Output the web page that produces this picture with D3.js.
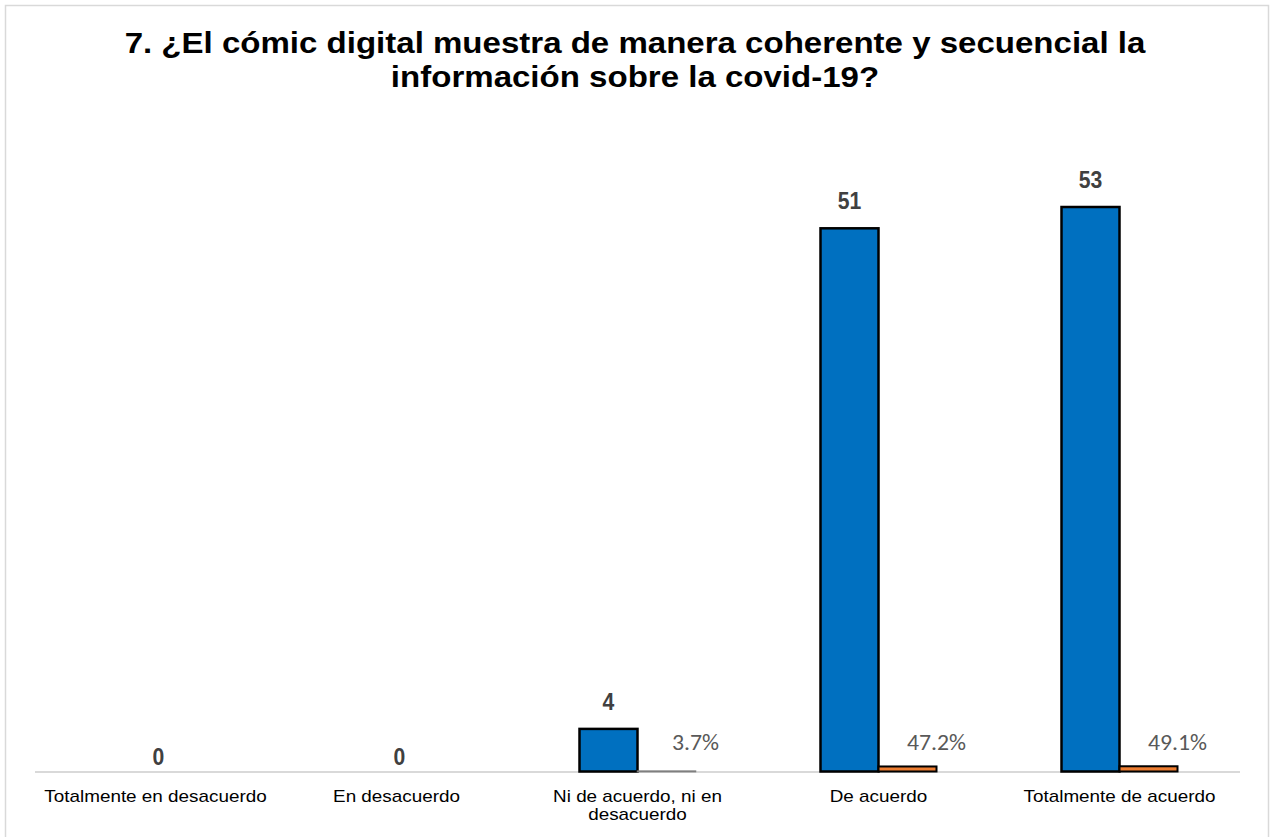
<!DOCTYPE html>
<html>
<head>
<meta charset="utf-8">
<script src="https://cdn.jsdelivr.net/npm/d3@7"></script>
<style>
  html, body { margin: 0; padding: 0; background: #fff; }
  svg { display: block; }
</style>
</head>
<body>
<svg id="chart" width="1270" height="837"></svg>
<script>
// Survey responses
const categories = [
  "Totalmente en desacuerdo",
  "En desacuerdo",
  "Ni de acuerdo, ni en desacuerdo",
  "De acuerdo",
  "Totalmente de acuerdo"
];
const counts = [0, 0, 4, 51, 53];
const shares = [null, null, 0.037, 0.472, 0.491];
const shareLabels = [null, null, "3.7%", "47.2%", "49.1%"];
const titleLines = [
  "7. ¿El cómic digital muestra de manera coherente y secuencial la",
  "información sobre la covid-19?"
];
const categoryLines = [
  ["Totalmente en desacuerdo"],
  ["En desacuerdo"],
  ["Ni de acuerdo, ni en", "desacuerdo"],
  ["De acuerdo"],
  ["Totalmente de acuerdo"]
];

const svg = d3.select("#chart");
const plot = { left: 35, right: 1240, top: 207, bottom: 771.5 };
const SANS = "Liberation Sans, Arial, sans-serif";

// text placed at (cx, cy) with a horizontal stretch
function placed(sel, cx, cy, sx) {
  sel.attr("x", 0).attr("y", 0)
    .attr("transform", (d, i) => `translate(${cx(d, i)},${cy(d, i)}) scale(${sx},1)`);
  return sel;
}

// chart frame
svg.append("rect")
  .attr("x", 5.5).attr("y", 5.5)
  .attr("width", 1263).attr("height", 840)
  .attr("fill", "#fff").attr("stroke", "#d9d9d9").attr("stroke-width", 1.5);

// title
placed(
  svg.append("g").selectAll("text").data(titleLines).join("text")
    .attr("text-anchor", "middle")
    .attr("font-family", SANS)
    .attr("font-weight", "bold").attr("font-size", 29.5)
    .attr("fill", "#000")
    .text(d => d),
  () => 635, (d, i) => 53 + i * 34, 1.12);

const x = d3.scaleBand().domain(categories).range([plot.left, plot.right]).padding(0);
const y = d3.scaleLinear().domain([0, 53]).range([plot.bottom, plot.top]);
const barW = 58;
const center = c => x(c) + x.bandwidth() / 2;

// axis line
svg.append("line")
  .attr("x1", plot.left).attr("x2", plot.right)
  .attr("y1", plot.bottom + 0.5).attr("y2", plot.bottom + 0.5)
  .attr("stroke", "#d9d9d9").attr("stroke-width", 2);

// count bars
svg.append("g").selectAll("rect")
  .data(categories.map((c, i) => ({ c, v: counts[i] })).filter(d => d.v > 0))
  .join("rect")
  .attr("x", d => center(d.c) - barW)
  .attr("y", d => y(d.v))
  .attr("width", barW)
  .attr("height", d => y(0) - y(d.v))
  .attr("fill", "#0070c0").attr("stroke", "#000").attr("stroke-width", 2.5);

// share bars (fractions, on the same axis)
svg.append("g").selectAll("rect")
  .data(categories.map((c, i) => ({ c, v: shares[i] })).filter(d => d.v != null))
  .join("rect")
  .attr("x", d => center(d.c))
  .attr("y", d => y(d.v))
  .attr("width", barW)
  .attr("height", d => Math.max(0.5, y(0) - y(d.v)))
  .attr("fill", "#ed7d31")
  .attr("stroke", d => d.v < 0.1 ? "#7f7f7f" : "#000")
  .attr("stroke-width", d => d.v < 0.1 ? 1.5 : 2);

// count labels
placed(
  svg.append("g").selectAll("text")
    .data(categories.map((c, i) => ({ c, v: counts[i] })))
    .join("text")
    .attr("text-anchor", "middle")
    .attr("font-family", SANS)
    .attr("font-weight", "bold").attr("font-size", 23)
    .attr("fill", "#404040")
    .text(d => d.v),
  d => d.v > 0 ? center(d.c) - barW / 2 : center(d.c) + 3,
  d => d.v > 0 ? y(d.v) - 19 : y(0) - 6.5,
  0.92);

// share labels
placed(
  svg.append("g").selectAll("text")
    .data(categories.map((c, i) => ({ c, v: shares[i], t: shareLabels[i] })).filter(d => d.v != null))
    .join("text")
    .attr("text-anchor", "middle")
    .attr("font-family", "Carlito, Open Sans, sans-serif")
    .attr("font-size", 22)
    .attr("fill", "#595959")
    .text(d => d.t),
  d => center(d.c) + barW,
  () => y(0) - 22,
  1.08);

// category labels
const catG = svg.append("g").selectAll("text").data(categories).join("text")
  .attr("text-anchor", "middle")
  .attr("font-family", SANS)
  .attr("font-size", 16)
  .attr("fill", "#000")
  .attr("transform", c => `translate(${center(c)},0) scale(1.18,1)`);
catG.each(function (c, i) {
  d3.select(this).selectAll("tspan").data(categoryLines[i]).join("tspan")
    .attr("x", 0).attr("y", (d, j) => 802 + j * 18)
    .text(d => d);
});
</script>
</body>
</html>
